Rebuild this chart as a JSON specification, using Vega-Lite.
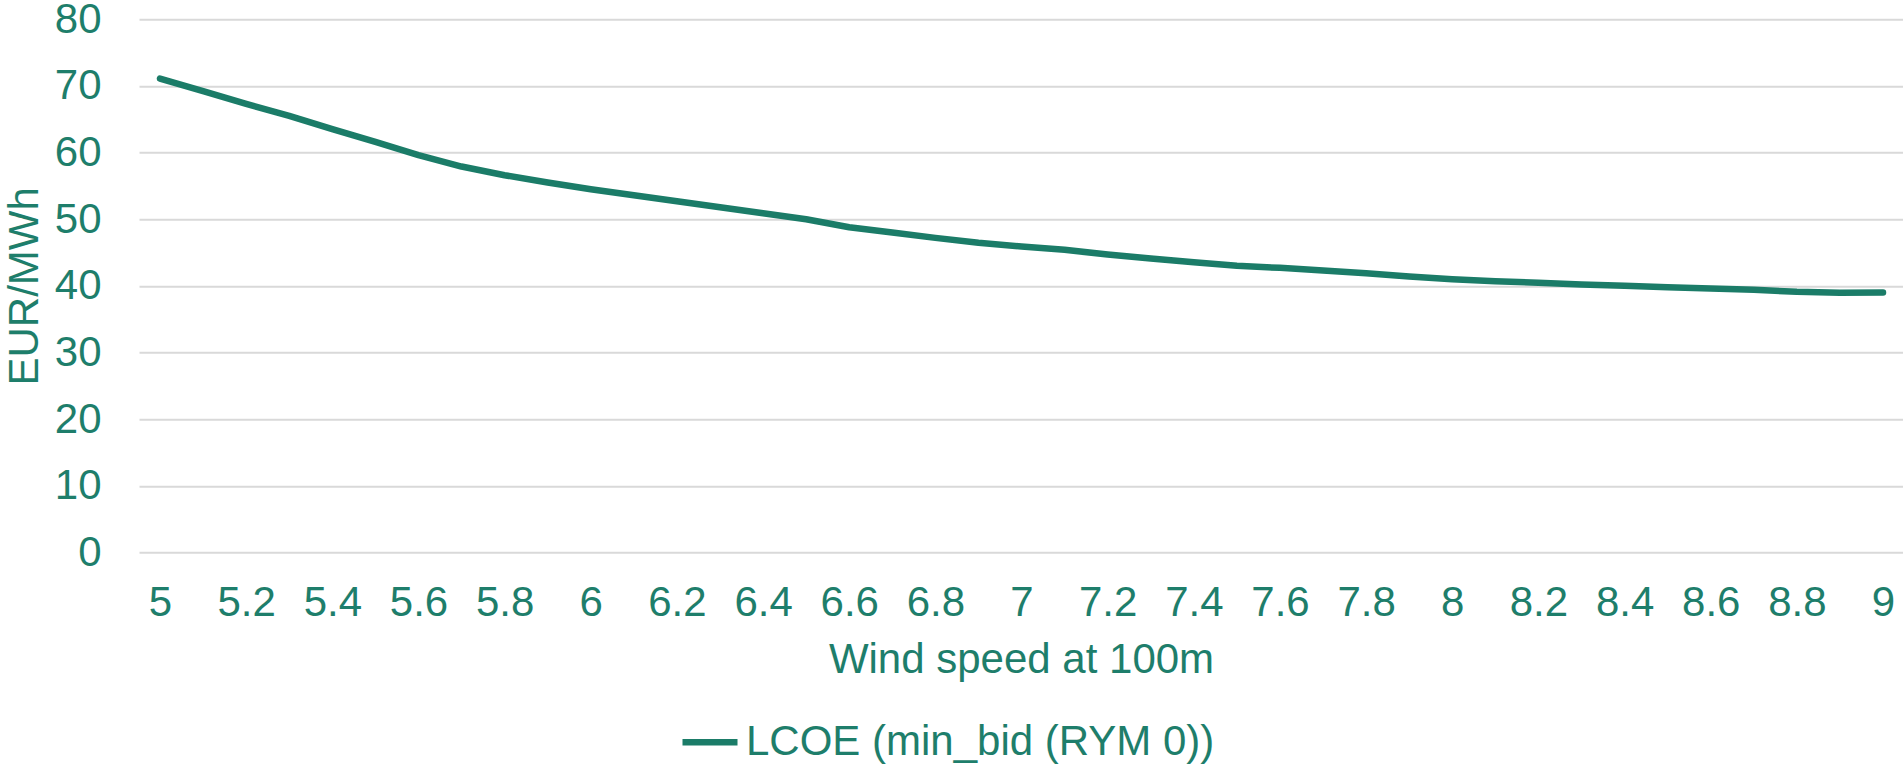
{
  "$schema": "https://vega.github.io/schema/vega-lite/v6.json",
  "width": 1764,
  "height": 533.3,
  "autosize": {"type": "none"},
  "padding": {"left": 139, "top": 19.2, "right": 0, "bottom": 219.5},
  "background": "white",
  "config": {"view": {"stroke": null}, "font": "Liberation Sans"},
  "data": {"values": [
    {"ws": 5.0, "lcoe": 71.1, "series": "LCOE (min_bid (RYM 0))"},
    {"ws": 5.1, "lcoe": 69.2, "series": "LCOE (min_bid (RYM 0))"},
    {"ws": 5.2, "lcoe": 67.3, "series": "LCOE (min_bid (RYM 0))"},
    {"ws": 5.3, "lcoe": 65.5, "series": "LCOE (min_bid (RYM 0))"},
    {"ws": 5.4, "lcoe": 63.5, "series": "LCOE (min_bid (RYM 0))"},
    {"ws": 5.5, "lcoe": 61.6, "series": "LCOE (min_bid (RYM 0))"},
    {"ws": 5.6, "lcoe": 59.6, "series": "LCOE (min_bid (RYM 0))"},
    {"ws": 5.7, "lcoe": 57.9, "series": "LCOE (min_bid (RYM 0))"},
    {"ws": 5.8, "lcoe": 56.6, "series": "LCOE (min_bid (RYM 0))"},
    {"ws": 5.9, "lcoe": 55.5, "series": "LCOE (min_bid (RYM 0))"},
    {"ws": 6.0, "lcoe": 54.5, "series": "LCOE (min_bid (RYM 0))"},
    {"ws": 6.1, "lcoe": 53.6, "series": "LCOE (min_bid (RYM 0))"},
    {"ws": 6.2, "lcoe": 52.7, "series": "LCOE (min_bid (RYM 0))"},
    {"ws": 6.3, "lcoe": 51.8, "series": "LCOE (min_bid (RYM 0))"},
    {"ws": 6.4, "lcoe": 50.9, "series": "LCOE (min_bid (RYM 0))"},
    {"ws": 6.5, "lcoe": 50.0, "series": "LCOE (min_bid (RYM 0))"},
    {"ws": 6.6, "lcoe": 48.8, "series": "LCOE (min_bid (RYM 0))"},
    {"ws": 6.7, "lcoe": 48.0, "series": "LCOE (min_bid (RYM 0))"},
    {"ws": 6.8, "lcoe": 47.2, "series": "LCOE (min_bid (RYM 0))"},
    {"ws": 6.9, "lcoe": 46.45, "series": "LCOE (min_bid (RYM 0))"},
    {"ws": 7.0, "lcoe": 45.9, "series": "LCOE (min_bid (RYM 0))"},
    {"ws": 7.1, "lcoe": 45.4, "series": "LCOE (min_bid (RYM 0))"},
    {"ws": 7.2, "lcoe": 44.7, "series": "LCOE (min_bid (RYM 0))"},
    {"ws": 7.3, "lcoe": 44.1, "series": "LCOE (min_bid (RYM 0))"},
    {"ws": 7.4, "lcoe": 43.55, "series": "LCOE (min_bid (RYM 0))"},
    {"ws": 7.5, "lcoe": 43.0, "series": "LCOE (min_bid (RYM 0))"},
    {"ws": 7.6, "lcoe": 42.7, "series": "LCOE (min_bid (RYM 0))"},
    {"ws": 7.7, "lcoe": 42.3, "series": "LCOE (min_bid (RYM 0))"},
    {"ws": 7.8, "lcoe": 41.9, "series": "LCOE (min_bid (RYM 0))"},
    {"ws": 7.9, "lcoe": 41.4, "series": "LCOE (min_bid (RYM 0))"},
    {"ws": 8.0, "lcoe": 41.0, "series": "LCOE (min_bid (RYM 0))"},
    {"ws": 8.1, "lcoe": 40.7, "series": "LCOE (min_bid (RYM 0))"},
    {"ws": 8.2, "lcoe": 40.45, "series": "LCOE (min_bid (RYM 0))"},
    {"ws": 8.3, "lcoe": 40.2, "series": "LCOE (min_bid (RYM 0))"},
    {"ws": 8.4, "lcoe": 40.0, "series": "LCOE (min_bid (RYM 0))"},
    {"ws": 8.5, "lcoe": 39.8, "series": "LCOE (min_bid (RYM 0))"},
    {"ws": 8.6, "lcoe": 39.6, "series": "LCOE (min_bid (RYM 0))"},
    {"ws": 8.7, "lcoe": 39.4, "series": "LCOE (min_bid (RYM 0))"},
    {"ws": 8.8, "lcoe": 39.1, "series": "LCOE (min_bid (RYM 0))"},
    {"ws": 8.9, "lcoe": 38.95, "series": "LCOE (min_bid (RYM 0))"},
    {"ws": 9.0, "lcoe": 39.0, "series": "LCOE (min_bid (RYM 0))"}
  ]},
  "mark": {"type": "line", "strokeWidth": 6.5, "strokeCap": "round", "strokeJoin": "round"},
  "encoding": {
    "x": {
      "field": "ws", "type": "quantitative",
      "scale": {"domain": [4.9512, 9.0464], "nice": false, "zero": false},
      "axis": {
        "values": [5, 5.2, 5.4, 5.6, 5.8, 6, 6.2, 6.4, 6.6, 6.8, 7, 7.2, 7.4, 7.6, 7.8, 8, 8.2, 8.4, 8.6, 8.8, 9],
        "format": "~g", "title": "Wind speed at 100m", "grid": false, "domain": false, "ticks": false,
        "labelPadding": 30, "labelFontSize": 42, "labelColor": "#1e7e6b", "labelFlush": false, "labelOverlap": false,
        "titleFontSize": 42, "titleFontWeight": "normal", "titleColor": "#1e7e6b", "titlePadding": 16
      }
    },
    "y": {
      "field": "lcoe", "type": "quantitative",
      "scale": {"domain": [0, 80], "nice": false},
      "axis": {
        "values": [0, 10, 20, 30, 40, 50, 60, 70, 80],
        "title": "EUR/MWh", "grid": true, "gridColor": "#d9d9d9", "gridWidth": 2, "domain": false, "ticks": false,
        "labelPadding": 38, "labelFontSize": 42, "labelColor": "#1e7e6b",
        "titleFontSize": 42, "titleFontWeight": "normal", "titleColor": "#1e7e6b", "titlePadding": 8
      }
    },
    "color": {
      "field": "series", "type": "nominal",
      "scale": {"range": ["#1b7c68"]},
      "legend": {
        "orient": "none", "legendX": 540, "legendY": 692, "title": null, "padding": 0,
        "symbolType": "stroke", "symbolStrokeWidth": 6.5, "symbolSize": 3025,
        "labelFontSize": 42, "labelColor": "#1e7e6b", "labelOffset": 5, "labelLimit": 0
      }
    }
  }
}
